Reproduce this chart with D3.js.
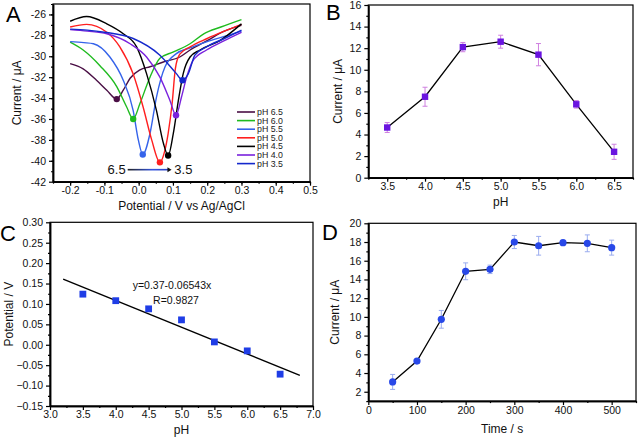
<!DOCTYPE html>
<html><head><meta charset="utf-8">
<script src="https://cdn.jsdelivr.net/npm/d3@7"></script>
<style>body{margin:0;background:#fff}svg{display:block}text{font-family:Arial,"Liberation Sans",sans-serif}</style>
</head><body>
<svg id="c" width="638" height="440"></svg>
<script>
// ---------- Panel A data ----------
const seriesA = ["pH 6.5","pH 6.0","pH 5.5","pH 5.0","pH 4.5","pH 4.0","pH 3.5"];
const colorsA = ["#4a0f45","#1fbb1f","#3563ea","#ff1f1f","#000000","#7a22dd","#1428cc"];
const potA = [
  [-0.2,-0.162,-0.123,-0.093,-0.064,-0.045,-0.025,0.004,0.033,0.072,0.12,0.15,0.2,0.25,0.3],
  [-0.2,-0.162,-0.113,-0.064,-0.035,-0.016,0.004,0.033,0.062,0.1,0.15,0.19,0.24,0.3],
  [-0.2,-0.16,-0.132,-0.084,-0.045,-0.016,-0.001,0.012,0.033,0.052,0.077,0.11,0.15,0.2,0.25,0.3],
  [-0.2,-0.152,-0.093,-0.055,-0.016,0.013,0.038,0.062,0.075,0.086,0.098,0.107,0.12,0.15,0.2,0.25,0.3],
  [-0.2,-0.152,-0.093,-0.045,-0.006,0.023,0.052,0.072,0.086,0.101,0.116,0.13,0.15,0.179,0.237,0.3],
  [-0.2,-0.15,-0.093,-0.025,0.023,0.062,0.091,0.109,0.125,0.14,0.159,0.198,0.25,0.3],
  [-0.2,-0.15,-0.1,-0.016,0.062,0.11,0.128,0.145,0.164,0.198,0.25,0.3]
];
const curA = [
  [-30.7,-31.2,-32.3,-33.25,-34.1,-33.25,-32.1,-31.3,-31.0,-30.55,-30.07,-29.4,-28.5,-27.6,-27.05],
  [-28.65,-29.4,-30.9,-32.9,-34.85,-36.0,-34.5,-32.0,-30.2,-29.6,-28.8,-27.85,-27.2,-26.5],
  [-28.6,-28.7,-28.8,-30.07,-32.3,-35.2,-38.0,-39.4,-37.4,-33.9,-31.0,-29.75,-29.2,-28.6,-28.1,-27.6],
  [-27.2,-26.95,-27.7,-29.1,-31.7,-34.85,-38.0,-40.15,-39.2,-37.4,-34.4,-31.2,-29.8,-29.1,-28.3,-27.6,-26.95],
  [-26.65,-26.2,-26.9,-27.85,-29.1,-31.66,-35.2,-38.3,-39.5,-37.4,-34.2,-31.66,-30.07,-29.4,-28.5,-26.9],
  [-27.45,-27.6,-27.85,-28.8,-30.07,-32.0,-34.2,-35.64,-33.9,-32.0,-30.4,-29.4,-28.5,-27.7],
  [-27.4,-27.5,-27.7,-28.3,-29.9,-31.66,-32.3,-31.66,-29.9,-29.1,-28.3,-27.5]
];
// ---------- Panel B data ----------
const pHB = [3.5,4.0,4.5,5.0,5.5,6.0,6.5];
const curB = [4.65,7.5,12.1,12.6,11.4,6.8,2.4];
const errB = [0.46,0.88,0.43,0.6,1.03,0.35,0.7];
// ---------- Panel C data ----------
const pHC = [3.5,4.0,4.5,5.0,5.5,6.0,6.5];
const potC = [0.124,0.108,0.088,0.061,0.007,-0.015,-0.072];
const fitC = {a:0.37, b:-0.06543, x0:3.2, x1:6.8};
// ---------- Panel D data ----------
const timeD = [50,100,150,200,250,300,350,400,450,500];
const curD = [3.05,5.28,9.74,14.87,15.08,18.0,17.6,17.93,17.86,17.4];
const errD = [0.8,0.15,0.95,0.9,0.45,0.7,1.0,0.25,0.9,0.8];

const svg = d3.select("#c");
const FS = 10.5;

function axes(g, x, y, o){
  const [x0,x1] = x.range(), [y0,y1] = y.range();
  g.append("rect").attr("x",x0).attr("y",y1).attr("width",x1-x0).attr("height",y0-y1)
    .attr("fill","none").attr("stroke","#000").attr("stroke-width",1.2);
  const xa = d3.axisBottom(x).tickValues(o.xt).tickFormat(o.xf).tickSize(4).tickSizeOuter(0);
  const xm = d3.axisBottom(x).tickValues(o.xm).tickFormat("").tickSize(2).tickSizeOuter(0);
  const ya = d3.axisLeft(y).tickValues(o.yt).tickFormat(o.yf).tickSize(4).tickSizeOuter(0);
  const ym = d3.axisLeft(y).tickValues(o.ym).tickFormat("").tickSize(2).tickSizeOuter(0);
  [xa,xm].forEach(a=>{
    const s = g.append("g").attr("transform",`translate(0,${y0})`).call(a);
    s.select(".domain").attr("stroke-width",1.5);
    s.selectAll("line").attr("stroke-width",1.2);
    s.selectAll("text").attr("font-size",FS).attr("font-family","Arial, Liberation Sans").attr("y",5).attr("dy","0.71em").attr("fill","#111");
  });
  [ya,ym].forEach(a=>{
    const s = g.append("g").attr("transform",`translate(${x0},0)`).call(a);
    s.select(".domain").attr("stroke-width",1.5);
    s.selectAll("line").attr("stroke-width",1.2);
    s.selectAll("text").attr("font-size",FS).attr("font-family","Arial, Liberation Sans").attr("fill","#111");
  });
  g.append("text").attr("x",(x0+x1)/2).attr("y",o.xty).attr("text-anchor","middle")
    .attr("font-size",12).attr("fill","#111").text(o.xl);
  g.append("text").attr("transform",`translate(${o.ytx},${(y0+y1)/2}) rotate(-90)`)
    .attr("text-anchor","middle").attr("font-size",12).attr("fill","#111").text(o.yl);
  g.append("text").attr("x",o.lx).attr("y",o.ly).attr("font-family","'Liberation Serif','Times New Roman',serif")
    .attr("font-size",22).attr("fill","#000").text(o.letter);
}
const rng = (a,b,s)=>d3.range(Math.round((b-a)/s)+1).map(i=>+(a+i*s).toFixed(4));

// ---------- Panel A ----------
{
  const g = svg.append("g");
  const x = d3.scaleLinear().domain([-0.25,0.5]).range([53,310]);
  const y = d3.scaleLinear().domain([-42,-25]).range([181.7,4]);
  axes(g,x,y,{xt:rng(-0.2,0.5,0.1), xf:d=>d3.format(".1f")(d).replace("−","-"), xm:rng(-0.25,0.5,0.05),
    yt:rng(-42,-26,2), yf:d=>String(d), ym:rng(-41,-25,1),
    xl:"Potential / V vs Ag/AgCl", xty:210, yl:"Current / μA", ytx:21, lx:6, ly:22, letter:"A"});
  const line = d3.line().x(d=>x(d[0])).y(d=>y(d[1])).curve(d3.curveMonotoneX);
  seriesA.forEach((s,i)=>{
    const pts = potA[i].map((p,j)=>[p,curA[i][j]]);
    g.append("path").attr("d",line(pts)).attr("fill","none").attr("stroke",colorsA[i]).attr("stroke-width",1.4);
  });
  seriesA.forEach((s,i)=>{
    const pts = potA[i].map((p,j)=>[p,curA[i][j]]);
    const m = d3.least(pts,d=>d[1]);
    g.append("circle").attr("cx",x(m[0])).attr("cy",y(m[1])).attr("r",3.2).attr("fill",colorsA[i]);
  });
  seriesA.forEach((s,i)=>{
    const ly = 112 + i*8.6;
    g.append("line").attr("x1",237).attr("x2",255).attr("y1",ly).attr("y2",ly).attr("stroke",colorsA[i]).attr("stroke-width",1.6);
    g.append("text").attr("x",257).attr("y",ly+3).attr("font-size",8.8).attr("fill","#222").text(s);
  });
  const defs = svg.append("defs");
  const gr = defs.append("linearGradient").attr("id","ag").attr("x1","0%").attr("x2","100%");
  gr.append("stop").attr("offset","0%").attr("stop-color","#222");
  gr.append("stop").attr("offset","60%").attr("stop-color","#3355e0");
  gr.append("stop").attr("offset","100%").attr("stop-color","#2a40c0");
  const ay = y(-40.85);
  g.append("rect").attr("x",x(-0.032)).attr("y",ay-0.8).attr("width",x(0.088)-x(-0.032)).attr("height",1.6).attr("fill","url(#ag)");
  g.append("path").attr("d",`M${x(0.096)},${ay} L${x(0.084)},${ay-2.5} L${x(0.084)},${ay+2.5} Z`).attr("fill","#111");
  g.append("text").attr("x",x(-0.038)).attr("y",ay+4.5).attr("text-anchor","end").attr("font-size",13).attr("fill","#111").text("6.5");
  g.append("text").attr("x",x(0.104)).attr("y",ay+4.5).attr("font-size",13).attr("fill","#111").text("3.5");
}
// ---------- Panel B ----------
{
  const g = svg.append("g");
  const x = d3.scaleLinear().domain([3.25,6.75]).range([368.3,633]);
  const y = d3.scaleLinear().domain([0,16]).range([177.7,5]);
  axes(g,x,y,{xt:rng(3.5,6.5,0.5), xf:d3.format(".1f"), xm:rng(3.25,6.75,0.25),
    yt:rng(0,16,2), yf:d=>String(d), ym:rng(1,15,2),
    xl:"pH", xty:206, yl:"Current / μA", ytx:342, lx:326, ly:20, letter:"B"});
  const line = d3.line().x((d,i)=>x(pHB[i])).y(d=>y(d));
  g.append("path").attr("d",line(curB)).attr("fill","none").attr("stroke","#000").attr("stroke-width",1.3);
  pHB.forEach((p,i)=>{
    const cx = x(p), t = y(curB[i]+errB[i]), b = y(curB[i]-errB[i]);
    g.append("line").attr("x1",cx).attr("x2",cx).attr("y1",t).attr("y2",b).attr("stroke","#cf80e0").attr("stroke-width",1);
    [t,b].forEach(v=>g.append("line").attr("x1",cx-2.5).attr("x2",cx+2.5).attr("y1",v).attr("y2",v).attr("stroke","#cf80e0").attr("stroke-width",1));
    g.append("rect").attr("x",cx-3.2).attr("y",y(curB[i])-3.2).attr("width",6.4).attr("height",6.4).attr("fill","#6a14e0");
  });
}
// ---------- Panel C ----------
{
  const g = svg.append("g");
  const x = d3.scaleLinear().domain([3,7]).range([50,313]);
  const y = d3.scaleLinear().domain([-0.15,0.30]).range([406,222.3]);
  axes(g,x,y,{xt:rng(3,7,0.5), xf:d3.format(".1f"), xm:rng(3.25,6.75,0.5),
    yt:rng(-0.15,0.30,0.05), yf:d3.format(".2f"), ym:rng(-0.125,0.275,0.05),
    xl:"pH", xty:434, yl:"Potential / V", ytx:13, lx:0, ly:241, letter:"C"});
  g.append("line").attr("x1",x(fitC.x0)).attr("x2",x(fitC.x1))
    .attr("y1",y(fitC.a+fitC.b*fitC.x0)).attr("y2",y(fitC.a+fitC.b*fitC.x1)).attr("stroke","#000").attr("stroke-width",1.4);
  pHC.forEach((p,i)=>{
    g.append("rect").attr("x",x(p)-3.4).attr("y",y(potC[i])-3.4).attr("width",6.8).attr("height",6.8).attr("fill","#1f3de6");
  });
  g.append("text").attr("x",172).attr("y",289).attr("text-anchor","middle").attr("font-size",10.5).attr("fill","#111").text("y=0.37-0.06543x");
  g.append("text").attr("x",176).attr("y",304).attr("text-anchor","middle").attr("font-size",10.5).attr("fill","#111").text("R=0.9827");
}
// ---------- Panel D ----------
{
  const g = svg.append("g");
  const x = d3.scaleLinear().domain([0,550]).range([368.3,636]);
  const y = d3.scaleLinear().domain([1,20]).range([401.1,223.3]);
  axes(g,x,y,{xt:rng(0,500,100), xf:d=>String(d), xm:rng(50,550,100),
    yt:rng(2,20,2), yf:d=>String(d), ym:rng(1,19,2),
    xl:"Time / s", xty:433, yl:"Current / μA", ytx:339, lx:322, ly:240, letter:"D"});
  const line = d3.line().x((d,i)=>x(timeD[i])).y(d=>y(d));
  g.append("path").attr("d",line(curD)).attr("fill","none").attr("stroke","#000").attr("stroke-width",1.3);
  timeD.forEach((t,i)=>{
    const cx = x(t), a = y(curD[i]+errD[i]), b = y(curD[i]-errD[i]);
    g.append("line").attr("x1",cx).attr("x2",cx).attr("y1",a).attr("y2",b).attr("stroke","#9aacef").attr("stroke-width",1);
    [a,b].forEach(v=>g.append("line").attr("x1",cx-2.5).attr("x2",cx+2.5).attr("y1",v).attr("y2",v).attr("stroke","#9aacef").attr("stroke-width",1));
    g.append("circle").attr("cx",cx).attr("cy",y(curD[i])).attr("r",3.6).attr("fill","#2848e8");
  });
}
</script>
</body></html>
